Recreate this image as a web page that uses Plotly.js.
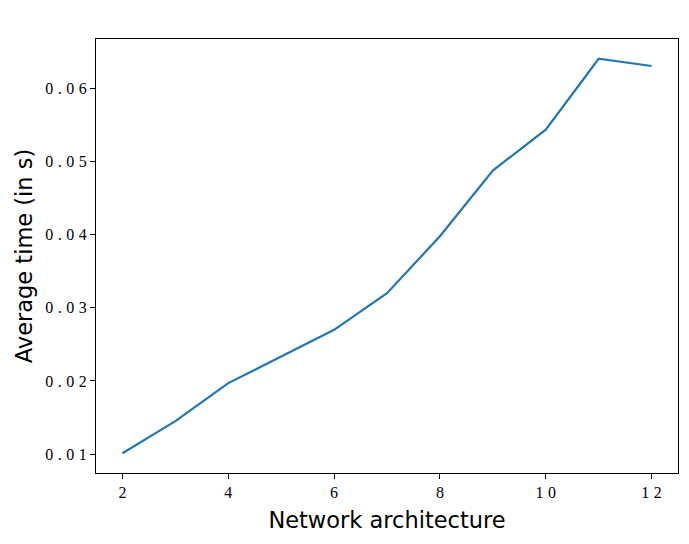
<!DOCTYPE html>
<html>
<head>
<meta charset="utf-8">
<script src="https://cdn.plot.ly/plotly-3.0.1.min.js"></script>
<style>
  html, body { margin: 0; padding: 0; background: #fff; }
  #chart { width: 689px; height: 544px; }
</style>
</head>
<body>
<div id="chart"></div>
<script>
// network architecture vs average time
const arch = [2, 3, 4, 5, 6, 7, 8, 9, 10, 11, 12];
const avgTime = [0.0101, 0.0145, 0.0197, 0.0234, 0.0270, 0.0320, 0.0398, 0.0488, 0.0544, 0.0641, 0.0631];

const xTicks = [2, 4, 6, 8, 10, 12];
const yTicks = [0.01, 0.02, 0.03, 0.04, 0.05, 0.06];

// spread characters a bit, like the LaTeX tick labels
const spaced = s => String(s).split('').join('\u2009\u200A');

Plotly.newPlot('chart', [{
  x: arch,
  y: avgTime,
  type: 'scatter',
  mode: 'lines',
  line: {color: '#1f77b4', width: 2.2}
}], {
  width: 689,
  height: 544,
  paper_bgcolor: '#fff',
  plot_bgcolor: '#fff',
  margin: {l: 96, r: 11, t: 39, b: 71},
  showlegend: false,
  xaxis: {
    range: [1.5, 12.5],
    tickvals: xTicks,
    ticktext: xTicks.map(spaced),
    ticks: 'outside', ticklen: 5, tickwidth: 1, tickcolor: '#000',
    showgrid: false, zeroline: false,
    showline: true, linecolor: '#000', linewidth: 1, mirror: true,
    tickfont: {family: 'Liberation Serif, serif', size: 16, color: '#000'},
    title: {text: 'Network architecture', standoff: 12,
            font: {family: 'DejaVu Sans, sans-serif', size: 22.5, color: '#000'}}
  },
  yaxis: {
    range: [0.0074, 0.0668],
    tickvals: yTicks,
    ticktext: yTicks.map(v => spaced(v.toFixed(2))),
    ticks: 'outside', ticklen: 5, tickwidth: 1, tickcolor: '#000',
    showgrid: false, zeroline: false,
    showline: true, linecolor: '#000', linewidth: 1, mirror: true,
    tickfont: {family: 'Liberation Serif, serif', size: 16, color: '#000'},
    title: {text: 'Average time (in s)', standoff: 6,
            font: {family: 'DejaVu Sans, sans-serif', size: 22.5, color: '#000'}}
  }
}, {displayModeBar: false});
</script>
</body>
</html>
